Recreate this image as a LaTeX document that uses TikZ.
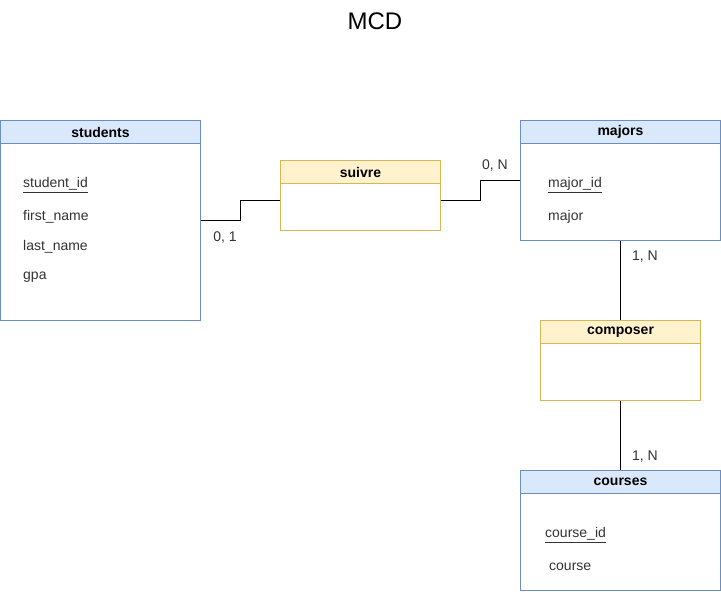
\documentclass[tikz,border=0pt]{standalone}
\usepackage{fontspec}
\setmainfont{Liberation Sans}
\definecolor{bluefill}{HTML}{DAE8FC}
\definecolor{bluestroke}{HTML}{6C8EBF}
\definecolor{yelfill}{HTML}{FFF2CC}
\definecolor{yelstroke}{HTML}{D6B656}
\definecolor{txt}{HTML}{333333}
\tikzset{
  box/.style={draw, line width=1pt, anchor=north west, inner sep=0pt, fill=white},
  entbox/.style={box, draw=bluestroke},
  relbox/.style={box, draw=yelstroke},
  enthead/.style={box, draw=bluestroke, fill=bluefill, minimum height=23pt, font=\fontsize{14}{16}\selectfont\bfseries},
  relhead/.style={box, draw=yelstroke, fill=yelfill, minimum height=23pt, font=\fontsize{14}{16}\selectfont\bfseries},
  attr/.style={anchor=west, inner sep=0pt, text=txt, font=\fontsize{14}{16}\selectfont},
  card/.style={anchor=center, inner sep=0pt, text=txt, font=\fontsize{14}{16}\selectfont},
  link/.style={line width=1pt, black}
}
\begin{document}
\begin{tikzpicture}[x=1pt, y=-1pt]
\useasboundingbox (0,0) rectangle (721,592);
% title
\node[font=\fontsize{24}{28}\selectfont, text=black] (title) at (375,21) {MCD};
% students
\node[entbox, minimum width=200pt, minimum height=200pt] (students) at (0,120) {};
\node[enthead, minimum width=200pt] (studentsh) at (0,120) {students};
\node[attr] (a1) at (23,185) {\underline{student\_id}};
\node[attr] (a2) at (23,217) {first\_name};
\node[attr] (a3) at (23,247) {last\_name};
\node[attr] (a4) at (23,277) {gpa};
% suivre
\node[relbox, minimum width=160pt, minimum height=70pt] (suivre) at (280,160) {};
\node[relhead, minimum width=160pt] (suivreh) at (280,160) {suivre};
% majors
\node[entbox, minimum width=200pt, minimum height=120pt] (majors) at (520,120) {};
\node[enthead, minimum width=200pt] (majorsh) at (520,120) {majors};
\node[attr] (m1) at (548,185) {\underline{major\_id}};
\node[attr] (m2) at (548,217) {major};
% composer
\node[relbox, minimum width=160pt, minimum height=80pt] (composer) at (540,320) {};
\node[relhead, minimum width=160pt] (composerh) at (540,320) {composer};
% courses
\node[entbox, minimum width=200pt, minimum height=120pt] (courses) at (520,470) {};
\node[enthead, minimum width=200pt] (coursesh) at (520,470) {courses};
\node[attr] (c1) at (545,535) {\underline{course\_id}};
\node[attr] (c2) at (549,567) {course};
% connectors
\draw[link] (students.east |- 0,220) -- (240,220) -- (240,200) -- (suivre.west |- 0,200);
\draw[link] (suivre.east |- 0,200) -- (480,200) -- (480,180) -- (majors.west |- 0,180);
\draw[link] (majors.south) -- (composerh.north);
\draw[link] (composer.south) -- (coursesh.north);
% cardinalities
\node[card] (k1) at (225,238) {0, 1};
\node[card] (k2) at (495,166) {0, N};
\node[card] (k3) at (645,257) {1, N};
\node[card] (k4) at (645,457) {1, N};
\end{tikzpicture}
\end{document}
